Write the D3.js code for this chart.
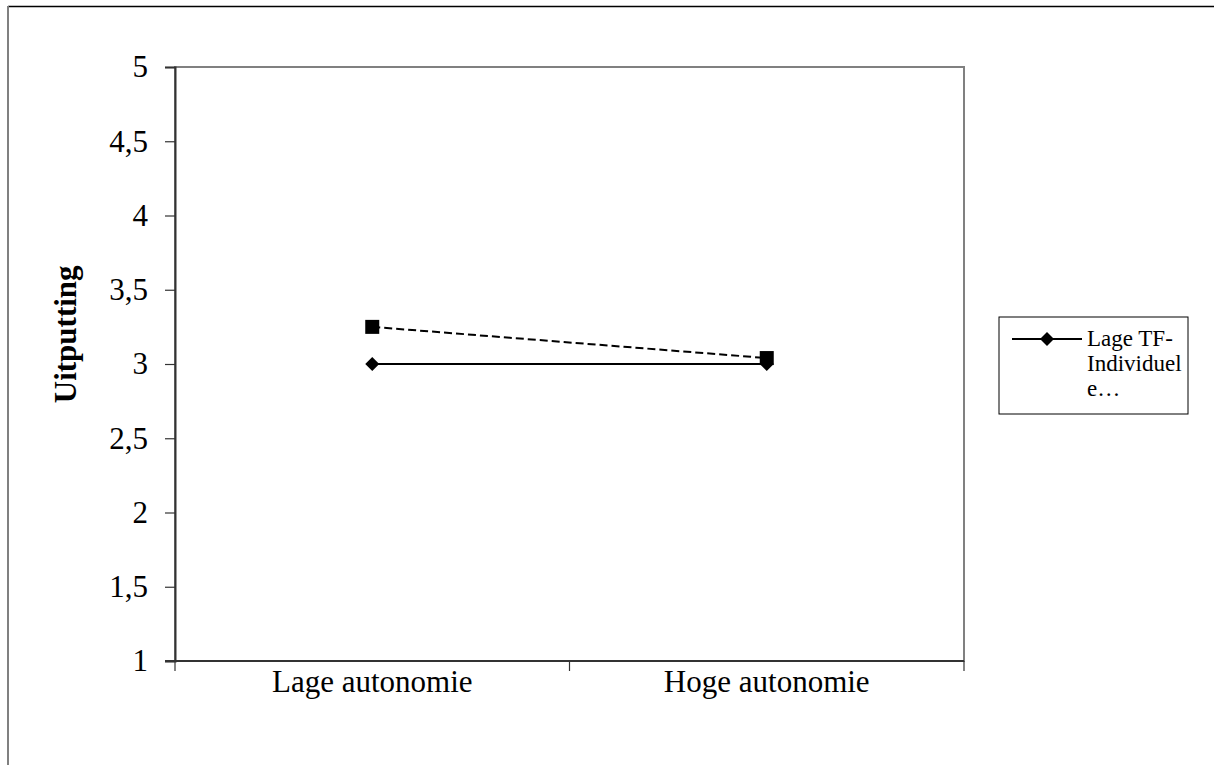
<!DOCTYPE html>
<html>
<head>
<meta charset="utf-8">
<script src="https://cdn.jsdelivr.net/npm/d3@7"></script>
<style>
  body { margin: 0; background: #fff; }
  svg { display: block; font-family: "Liberation Serif", "Times New Roman", serif; }
</style>
</head>
<body>
<div id="chart"></div>
<script>
// Data
const categories = ["Lage autonomie", "Hoge autonomie"];
const lowTF = [3.0, 3.0];      // Lage TF-Individuele...
const highTF = [3.25, 3.04];   // second series (not in legend)
const yTicks = [1, 1.5, 2, 2.5, 3, 3.5, 4, 4.5, 5];
const legendLines = ["Lage TF-", "Individuel", "e\u2026"];

const W = 1214, H = 765;
const margin = {top: 67, right: 250, bottom: 104, left: 175};
const width = 964 - margin.left;
const height = 661 - margin.top;

const svg = d3.select("#chart").append("svg")
    .attr("width", W)
    .attr("height", H);

// outer chart frame (partly cropped)
svg.append("line").attr("x1", 8).attr("x2", W + 5).attr("y1", 6.5).attr("y2", 6.5)
    .attr("stroke", "#000").attr("stroke-width", 1.5);
svg.append("line").attr("x1", 8).attr("x2", 8).attr("y1", 6).attr("y2", H + 5)
    .attr("stroke", "#808080").attr("stroke-width", 2);

const g = svg.append("g")
    .attr("transform", `translate(${margin.left}, ${margin.top})`);

// Scales
const x = d3.scaleBand().domain(categories).range([0, width]);
const y = d3.scaleLinear().domain([1, 5]).range([height, 0]);

// plot area border
g.append("rect")
    .attr("x", 0).attr("y", 0)
    .attr("width", width).attr("height", height)
    .attr("fill", "none")
    .attr("stroke", "#808080")
    .attr("stroke-width", 2);

// Y axis
const yAxis = d3.axisLeft(y).tickValues(yTicks).tickSize(10).tickPadding(17)
    .tickFormat(d => String(d).replace(".", ","));
const yg = g.append("g").call(yAxis);
yg.attr("font-family", null).attr("font-size", null);
yg.select(".domain").attr("stroke", "#333").attr("stroke-width", 2);
yg.selectAll(".tick line").attr("stroke", "#333").attr("stroke-width", 1.2);
yg.selectAll(".tick text").attr("font-size", 31).attr("fill", "#000");

// X axis: ticks at band edges
const xg = g.append("g").attr("transform", `translate(0, ${height})`);
xg.append("line").attr("x1", -10).attr("x2", width).attr("y1", 0).attr("y2", 0)
    .attr("stroke", "#333").attr("stroke-width", 2);
const edges = categories.map(c => x(c)).concat([width]);
xg.selectAll(".edge").data(edges).enter().append("line")
    .attr("class", "edge")
    .attr("x1", d => d).attr("x2", d => d)
    .attr("y1", 0).attr("y2", 10)
    .attr("stroke", "#333").attr("stroke-width", 1.2);
xg.selectAll(".xlab").data(categories).enter().append("text")
    .attr("class", "xlab")
    .attr("x", d => x(d) + x.bandwidth() / 2)
    .attr("y", 31)
    .attr("text-anchor", "middle")
    .attr("font-size", 31)
    .text(d => d);

// Y-axis label
g.append("text")
    .attr("transform", `translate(-99, ${y(3.2)}) rotate(-90)`)
    .attr("text-anchor", "middle")
    .attr("font-size", 31)
    .attr("font-weight", "bold")
    .text("Uitputting");

const cx = d => x(d) + x.bandwidth() / 2;
const line = d3.line().x(d => cx(d.cat)).y(d => y(d.v));

const dataLow = categories.map((c, i) => ({cat: c, v: lowTF[i]}));
const dataHigh = categories.map((c, i) => ({cat: c, v: highTF[i]}));

// dashed series
g.append("path")
    .datum(dataHigh)
    .attr("d", line)
    .attr("fill", "none")
    .attr("stroke", "#000")
    .attr("stroke-width", 2)
    .attr("stroke-dasharray", "8,4");

// solid series
g.append("path")
    .datum(dataLow)
    .attr("d", line)
    .attr("fill", "none")
    .attr("stroke", "#000")
    .attr("stroke-width", 2);

const diamond = d3.symbol().type(d3.symbolSquare).size(98);
g.selectAll(".dia").data(dataLow).enter().append("path")
    .attr("class", "dia")
    .attr("transform", d => `translate(${cx(d.cat)}, ${y(d.v)}) rotate(45)`)
    .attr("d", diamond)
    .attr("fill", "#000");

g.selectAll(".sq").data(dataHigh).enter().append("rect")
    .attr("class", "sq")
    .attr("x", d => cx(d.cat) - 7)
    .attr("y", d => y(d.v) - 7)
    .attr("width", 14).attr("height", 14)
    .attr("fill", "#000");

// Legend
const lg = svg.append("g").attr("transform", "translate(999, 317)");
lg.append("rect")
    .attr("x", 0).attr("y", 0).attr("width", 189).attr("height", 97)
    .attr("fill", "#fff").attr("stroke", "#000").attr("stroke-width", 1);
lg.append("line").attr("x1", 13).attr("x2", 83).attr("y1", 22).attr("y2", 22)
    .attr("stroke", "#000").attr("stroke-width", 2);
lg.append("path")
    .attr("transform", "translate(48, 22) rotate(45)")
    .attr("d", diamond)
    .attr("fill", "#000");
lg.selectAll(".lt").data(legendLines).enter().append("text")
    .attr("class", "lt")
    .attr("x", 88)
    .attr("y", (d, i) => 29 + i * 25)
    .attr("font-size", 23)
    .text(d => d);
</script>
</body>
</html>
